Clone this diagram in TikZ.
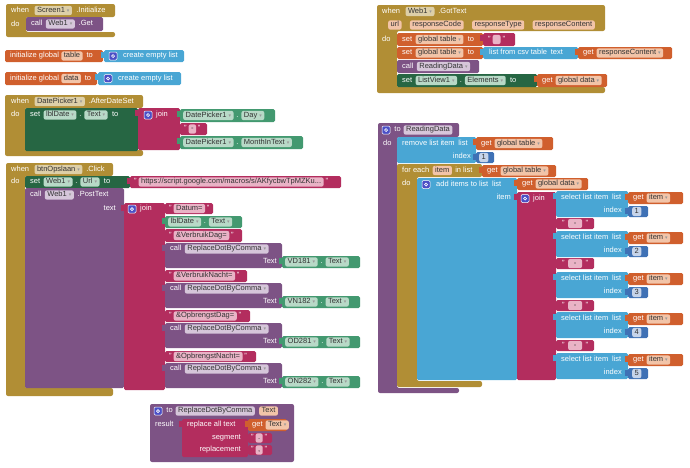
\documentclass[tikz,border=0pt]{standalone}
\usepackage{fontspec}
\setmainfont{Liberation Sans}
\newfontfamily\djf{DejaVu Sans}
\usetikzlibrary{positioning}
\definecolor{cGold}{HTML}{B18E35}
\definecolor{cGoldC}{HTML}{DDCFA8}
\definecolor{cPur}{HTML}{7D5385}
\definecolor{cPurC}{HTML}{D6C6DA}
\definecolor{cGrD}{HTML}{266643}
\definecolor{cGr}{HTML}{439970}
\definecolor{cGrC}{HTML}{B8D9C7}
\definecolor{cMag}{HTML}{B32D5E}
\definecolor{cMagC}{HTML}{E9B3C6}
\definecolor{cOr}{HTML}{D05F2D}
\definecolor{cOrC}{HTML}{F2C4A8}
\definecolor{cBl}{HTML}{49A6D4}
\definecolor{cMa}{HTML}{3F71B5}
\definecolor{cMaC}{HTML}{C6D4EA}
\definecolor{cGear}{HTML}{4B4FC6}
\newcommand\fs{\fontsize{7.5}{8}\selectfont}
\newcommand\dd{\hspace{2pt}{\djf\fontsize{5}{5}\selectfont\color{black!40}▾}}
\newcommand\cblk[9]{\fill[#1, rounded corners=2pt] (#2,#3) -- (#4,#3) -- (#4,#5) -- (#6,#5) -- (#6,#7) -- (#8,#7) -- (#8,#9) -- (#2,#9) -- cycle;}
\newcommand\sblk[5]{\fill[#1, rounded corners=1.5pt] (#2,#3) rectangle (#4,#5);}
\newcommand\vblk[5]{\fill[#1, rounded corners=1.5pt] (#2,#3) rectangle (#4,#5); \fill[#1] ({#2-3},{#3+2}) rectangle ({#2+1},{#3+8});}
\tikzset{
  lbl/.style={text=white, inner sep=0pt, font=\fs, text height=5.4pt, text depth=1.6pt},
  chip/.style={fill=#1, text=black!80, rounded corners=2pt, inner xsep=2.5pt, inner ysep=1.1pt, font=\fs, text height=5.4pt, text depth=1.6pt},
  gear/.style={fill=cGear, draw=white, line width=0.5pt, rounded corners=1.2pt, minimum size=8pt, inner sep=0pt,
    path picture={\draw[white, line width=0.7pt] (path picture bounding box.center) circle (1.5pt);}},
  W/.style={anchor=west},
  E/.style={anchor=east}
}
\begin{document}
\begin{tikzpicture}[x=1pt,y=-1pt]
\useasboundingbox (0,0) rectangle (690,467);
% ---------- Screen1.Initialize
\cblk{cGold}{6}{4}{115}{17}{26}{32}{115}{37}
\node[lbl,W] (a1) at (11,10.5) {when};
\node[chip=cGoldC,right=5pt of a1] (a2) {Screen1\dd};
\node[lbl,right=4pt of a2] (a3) {.Initialize};
\node[lbl,W] (a4) at (11,24.5) {do};
\sblk{cPur}{26}{17}{103}{31}
\node[lbl,W] (a5) at (31,24) {call};
\node[chip=cPurC,right=3pt of a5] (a6) {Web1\dd};
\node[lbl,right=3.5pt of a6] (a7) {.Get};
% ---------- globals
\sblk{cOr}{5}{50}{103}{62}
\node[lbl,W] (b1) at (10,56) {initialize global};
\node[chip=cOrC,right=2pt of b1] (b2) {table};
\node[lbl,right=3.5pt of b2] (b3) {to};
\vblk{cBl}{104}{50}{184}{62}
\node[gear] (b4) at (113,56) {};
\node[lbl,W] (b5) at (123,56) {create empty list};
\sblk{cOr}{5}{72}{97}{85}
\node[lbl,W] (c1) at (10,78.5) {initialize global};
\node[chip=cOrC,right=2pt of c1] (c2) {data};
\node[lbl,right=3.5pt of c2] (c3) {to};
\vblk{cBl}{98}{72}{181}{85}
\node[gear] (c4) at (108,78.5) {};
\node[lbl,W] (c5) at (118,78.5) {create empty list};
% ---------- DatePicker1.AfterDateSet
\cblk{cGold}{5}{95}{143}{108}{25}{150}{143}{156}
\node[lbl,W] (d1) at (11,101.5) {when};
\node[chip=cGoldC,right=5pt of d1] (d2) {DatePicker1\dd};
\node[lbl,right=3.5pt of d2] (d3) {.AfterDateSet};
\node[lbl,W] (d4) at (11,115) {do};
\sblk{cGrD}{25}{108}{138}{151}
\node[lbl,W] (d5) at (30,115) {set};
\node[chip=cGrC,right=3pt of d5] (d6) {lblDate\dd};
\node[lbl,right=2.5pt of d6] (d7) {.};
\node[chip=cGrC,right=2.5pt of d7] (d8) {Text\dd};
\node[lbl,right=4pt of d8] (d9) {to};
\vblk{cMag}{138}{108}{180}{150}
\node[gear] (d10) at (148,115) {};
\node[lbl,W] (d11) at (156,115) {join};
\vblk{cGr}{180}{109}{275}{122}
\node[chip=cGrC,W] (d12) at (183,115.5) {DatePicker1\dd};
\node[lbl,right=2.5pt of d12] (d13) {.};
\node[chip=cGrC,right=2.5pt of d13] (d14) {Day\dd};
\vblk{cMag}{180}{123}{207}{135}
\node[lbl,W] (d15) at (184,129) {"};
\node[chip=cMagC,right=1.5pt of d15] (d16) {-};
\node[lbl,right=1.5pt of d16] (d17) {"};
\vblk{cGr}{180}{136}{303}{149}
\node[chip=cGrC,W] (d18) at (183,142.5) {DatePicker1\dd};
\node[lbl,right=2.5pt of d18] (d19) {.};
\node[chip=cGrC,right=2.5pt of d19] (d20) {MonthInText\dd};
% ---------- btnOpslaan.Click
\cblk{cGold}{6}{163}{113}{176}{25}{388}{113}{396}
\node[lbl,W] (e1) at (11,169.5) {when};
\node[chip=cGoldC,right=5pt of e1] (e2) {btnOpslaan\dd};
\node[lbl,right=3.5pt of e2] (e3) {.Click};
\node[lbl,W] (e4) at (11,182) {do};
\sblk{cGrD}{25}{176}{130}{188}
\node[lbl,W] (e5) at (30,182) {set};
\node[chip=cGrC,right=3pt of e5] (e6) {Web1\dd};
\node[lbl,right=2.5pt of e6] (e7) {.};
\node[chip=cGrC,right=2.5pt of e7] (e8) {Url\dd};
\node[lbl,right=4pt of e8] (e9) {to};
\vblk{cMag}{130}{176}{341}{188}
\node[lbl,W] (e10) at (134,182) {"};
\node[chip=cMagC,right=1.5pt of e10] (e11) {https://script.google.com/macros/s/AKfycbwTpMZKu...};
\node[lbl,right=1.5pt of e11] (e12) {"};
\sblk{cPur}{25}{188}{124}{388}
\node[lbl,W] (e13) at (30,195) {call};
\node[chip=cPurC,right=3pt of e13] (e14) {Web1\dd};
\node[lbl,right=3.5pt of e14] (e15) {.PostText};
\node[lbl,E] (e16) at (116,208.5) {text};
\vblk{cMag}{124}{203}{165}{390}
\node[gear] (e17) at (132,209) {};
\node[lbl,W] (e18) at (140,209) {join};
% join inputs
\vblk{cMag}{165}{203}{213}{214}
\node[lbl,W] (f1) at (169,208.5) {"};
\node[chip=cMagC,right=1.5pt of f1] (f2) {Datum=};
\node[lbl,right=1.5pt of f2] (f3) {"};
\vblk{cGr}{165}{216}{242}{228}
\node[chip=cGrC,W] (f4) at (168,222) {lblDate\dd};
\node[lbl,right=2.5pt of f4] (f5) {.};
\node[chip=cGrC,right=2.5pt of f5] (f6) {Text\dd};
\vblk{cMag}{165}{229}{242}{242}
\node[lbl,W] (f7) at (169,235.5) {"};
\node[chip=cMagC,right=1.5pt of f7] (f8) {\&VerbruikDag=};
\node[lbl,right=1.5pt of f8] (f9) {"};
\vblk{cMag}{165}{270}{247}{282}
\node[lbl,W] (f10) at (169,276) {"};
\node[chip=cMagC,right=1.5pt of f10] (f11) {\&VerbruikNacht=};
\node[lbl,right=1.5pt of f11] (f12) {"};
\vblk{cMag}{165}{310}{250}{322}
\node[lbl,W] (f13) at (169,316) {"};
\node[chip=cMagC,right=1.5pt of f13] (f14) {\&OpbrengstDag=};
\node[lbl,right=1.5pt of f14] (f15) {"};
\vblk{cMag}{165}{351}{256}{362}
\node[lbl,W] (f16) at (169,356.5) {"};
\node[chip=cMagC,right=1.5pt of f16] (f17) {\&OpbrengstNacht=};
\node[lbl,right=1.5pt of f17] (f18) {"};
% ReplaceDotByComma calls
\foreach \yy/\cn [count=\k] in {243/VD181,283/VN182,323/OD281,363/ON282}{
  \vblk{cPur}{165}{\yy}{282}{\yy+25}
  \node[lbl,W] (g\k a) at (170,\yy+6) {call};
  \node[chip=cPurC,right=3pt of g\k a] (g\k b) {ReplaceDotByComma\dd};
  \node[lbl,E] (g\k c) at (277,\yy+19) {Text};
  \vblk{cGr}{282}{\yy+13}{360}{\yy+25}
  \node[chip=cGrC,W] (g\k d) at (285,\yy+19) {\cn\dd};
  \node[lbl,right=2.5pt of g\k d] (g\k e) {.};
  \node[chip=cGrC,right=2.5pt of g\k e] (g\k f) {Text\dd};
}
% ---------- procedure ReplaceDotByComma
\fill[cPur, rounded corners=2pt] (150,404) rectangle (294,462);
\node[gear] (h1) at (158,411) {};
\node[lbl,right=4pt of h1] (h2) {to};
\node[chip=cPurC,right=2.5pt of h2] (h3) {ReplaceDotByComma};
\node[chip=cOrC,right=4pt of h3] (h4) {Text};
\node[lbl,W] (h5) at (155,425) {result};
\vblk{cMag}{182}{419}{248}{457}
\node[lbl,W] (h6) at (187,425) {replace all text};
\node[lbl,E] (h7) at (241,438) {segment};
\node[lbl,E] (h8) at (241,450) {replacement};
\vblk{cOr}{248}{419}{287}{431}
\node[lbl,W] (h9) at (252,425) {get};
\node[chip=cOrC,right=2.5pt of h9] (h10) {Text\dd};
\vblk{cMag}{248}{433}{272}{443}
\node[lbl,W] (h11) at (251,438) {"};
\node[chip=cMagC,right=1.5pt of h11] (h12) {.};
\node[lbl,right=1.5pt of h12] (h13) {"};
\vblk{cMag}{248}{445}{272}{455}
\node[lbl,W] (h14) at (251,450) {"};
\node[chip=cMagC,right=1.5pt of h14] (h15) {,};
\node[lbl,right=1.5pt of h15] (h16) {"};
% ---------- Web1.GotText
\cblk{cGold}{377}{5}{605}{31}{397}{87}{605}{93}
\node[lbl,W] (k1) at (382,11.5) {when};
\node[chip=cGoldC,right=5pt of k1] (k2) {Web1\dd};
\node[lbl,right=3.5pt of k2] (k3) {.GotText};
\node[chip=cOrC,W] (k4) at (388,25) {url};
\node[chip=cOrC,right=8pt of k4] (k5) {responseCode};
\node[chip=cOrC,right=8pt of k5] (k6) {responseType};
\node[chip=cOrC,right=8pt of k6] (k7) {responseContent};
\node[lbl,W] (k8) at (382,39.5) {do};
\sblk{cOr}{397}{33}{483}{46}
\node[lbl,W] (k9) at (402,39.5) {set};
\node[chip=cOrC,right=3pt of k9] (k10) {global table\dd};
\node[lbl,right=4pt of k10] (k11) {to};
\vblk{cMag}{483}{33}{515}{46}
\node[lbl,W] (k12) at (488,39.5) {"};
\node[chip=cMagC,right=1.5pt of k12,minimum width=8pt] (k13) {};
\node[lbl,right=1.5pt of k13] (k14) {"};
\sblk{cOr}{397}{47}{483}{59}
\node[lbl,W] (k15) at (402,53) {set};
\node[chip=cOrC,right=3pt of k15] (k16) {global table\dd};
\node[lbl,right=4pt of k16] (k17) {to};
\vblk{cBl}{483}{47}{578}{59}
\node[lbl,W] (k18) at (489,53) {list from csv table\enspace text};
\vblk{cOr}{578}{47}{672}{59}
\node[lbl,W] (k19) at (583,53) {get};
\node[chip=cOrC,right=2.5pt of k19] (k20) {responseContent\dd};
\sblk{cPur}{397}{60}{479}{73}
\node[lbl,W] (k21) at (402,66.5) {call};
\node[chip=cPurC,right=3pt of k21] (k22) {ReadingData\dd};
\sblk{cGrD}{397}{74}{537}{87}
\node[lbl,W] (k23) at (402,80.5) {set};
\node[chip=cGrC,right=3pt of k23] (k24) {ListView1\dd};
\node[lbl,right=2.5pt of k24] (k25) {.};
\node[chip=cGrC,right=2.5pt of k25] (k26) {Elements\dd};
\node[lbl,right=4pt of k26] (k27) {to};
\vblk{cOr}{537}{74}{607}{87}
\node[lbl,W] (k28) at (542,80.5) {get};
\node[chip=cOrC,right=2.5pt of k28] (k29) {global data\dd};
% ---------- procedure ReadingData
\cblk{cPur}{378}{123}{459}{137}{397}{388}{459}{393}
\node[gear] (m1) at (386,130) {};
\node[lbl,right=4pt of m1] (m2) {to};
\node[chip=cPurC,right=2.5pt of m2] (m3) {ReadingData};
\node[lbl,W] (m4) at (383,143.5) {do};
\sblk{cBl}{397}{137}{476}{163}
\node[lbl,W] (m5) at (402,143.5) {remove list item\enspace list};
\node[lbl,E] (m6) at (471,157) {index};
\vblk{cOr}{476}{137}{553}{150}
\node[lbl,W] (m7) at (481,143.5) {get};
\node[chip=cOrC,right=2.5pt of m7] (m8) {global table\dd};
\vblk{cMa}{476}{152}{494}{163}
\node[chip=cMaC,W] (m9) at (479,157.5) {1};
\cblk{cGold}{397}{164}{482}{177}{417}{381}{482}{387}
\node[lbl,W] (m10) at (402,170.5) {for each};
\node[chip=cOrC,right=3pt of m10] (m11) {item};
\node[lbl,right=3pt of m11] (m12) {in list};
\vblk{cOr}{482}{165}{556}{177}
\node[lbl,W] (m13) at (487,171) {get};
\node[chip=cOrC,right=2.5pt of m13] (m14) {global table\dd};
\node[lbl,W] (m15) at (402,184) {do};
\sblk{cBl}{417}{178}{517}{380}
\node[gear] (m16) at (426,184.5) {};
\node[lbl,W] (m17) at (436,184.5) {add items to list\enspace list};
\node[lbl,E] (m18) at (511,197.5) {item};
\vblk{cOr}{517}{178}{588}{190}
\node[lbl,W] (m19) at (522,184) {get};
\node[chip=cOrC,right=2.5pt of m19] (m20) {global data\dd};
\vblk{cMag}{517}{192}{556}{380}
\node[gear] (m21) at (525,198.5) {};
\node[lbl,W] (m22) at (533,198.5) {join};
\foreach \yy [count=\k] in {191,231,272,312,353}{
  \vblk{cBl}{556}{\yy}{628}{\yy+26}
  \node[lbl,W] (n\k a) at (561,\yy+6.5) {select list item\enspace list};
  \node[lbl,E] (n\k b) at (622,\yy+19.5) {index};
  \vblk{cOr}{628}{\yy+1}{683}{\yy+13}
  \node[lbl,W] (n\k c) at (633,\yy+7) {get};
  \node[chip=cOrC,right=2.5pt of n\k c] (n\k d) {item\dd};
  \vblk{cMa}{628}{\yy+15}{648}{\yy+26}
  \node[chip=cMaC,W] (n\k e) at (632,\yy+20.5) {\k};
}
\foreach \yy [count=\k] in {218,258,300,340}{
  \vblk{cMag}{556}{\yy}{594}{\yy+11}
  \node[lbl,W] (p\k a) at (562,\yy+5.5) {"};
  \node[chip=cMagC,right=3pt of p\k a,minimum width=14pt] (p\k b) {-};
  \node[lbl,right=3pt of p\k b] (p\k c) {"};
}
\end{tikzpicture}
\end{document}
